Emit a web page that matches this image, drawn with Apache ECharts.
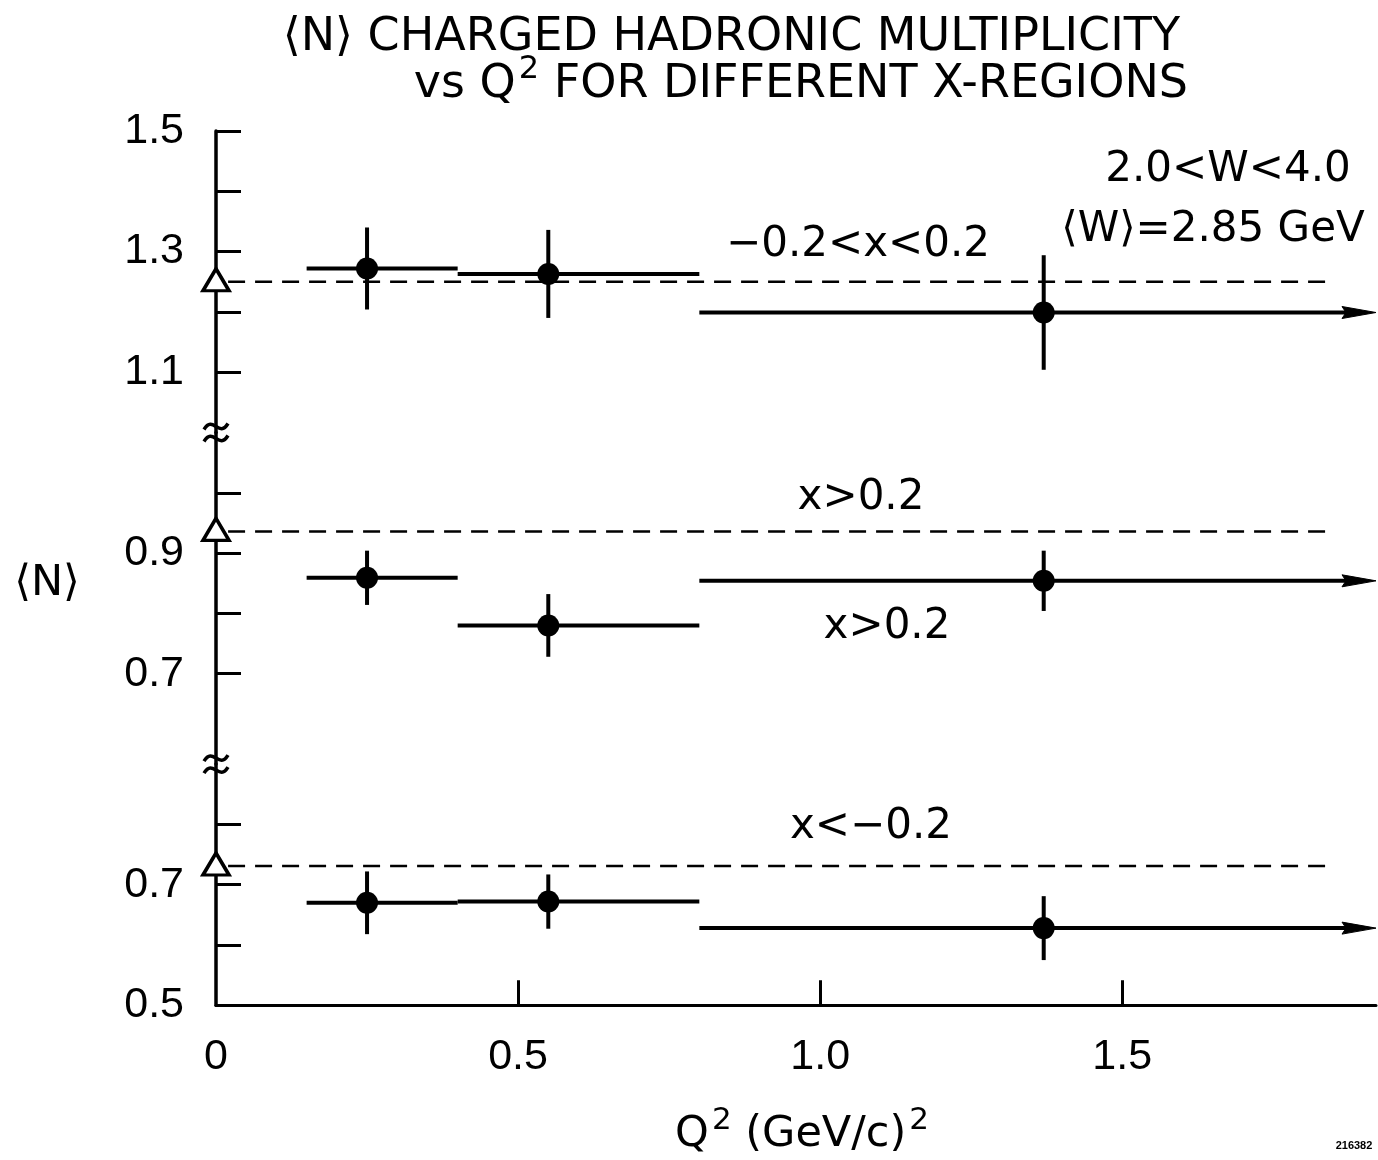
<!DOCTYPE html>
<html>
<head>
<meta charset="utf-8">
<script src="https://cdn.jsdelivr.net/npm/echarts@6/dist/echarts.min.js"></script>
<style>
html,body{margin:0;padding:0;background:#fff;}
#main{width:1378px;height:1160px;}
</style>
</head>
<body>
<div id="main"></div>
<script>
// ---------------- data ----------------
const regionLabels = ['\u22120.2<x<0.2', 'x>0.2', 'x>0.2', 'x<\u22120.2'];
const q2Centers = [0.25, 0.55, 1.37];
const q2BinLow = [0.15, 0.40, 0.80];
const q2BinHigh = [0.40, 0.80, 1.92];          // last bin is open-ended (arrow)
const nCentral = [1.272, 1.263, 1.199];        // -0.2 < x < 0.2
const errCentral = [0.068, 0.073, 0.095];
const nForward = [0.859, 0.780, 0.854];        // x > 0.2
const errForward = [0.045, 0.052, 0.050];
const nBackward = [0.670, 0.672, 0.628];       // x < -0.2
const errBackward = [0.052, 0.045, 0.053];
const refLevels = [1.25, 0.936, 0.731];        // open triangles + dashed lines
const refLineQ2 = [0.02, 1.84];
const yRanges = [[1.0, 1.5], [0.55, 1.1], [0.5, 0.9]];
const yTickValues = [[1.1, 1.2, 1.3, 1.4, 1.5], [0.7, 0.8, 0.9, 1.0], [0.5, 0.6, 0.7, 0.8]];
const yLabelValues = [[1.1, 1.3, 1.5], [0.7, 0.9], [0.5, 0.7]];
const xRange = [0, 1.92];
const xTickValues = [0.5, 1.0, 1.5];
const xLabelValues = [0, 0.5, 1.0, 1.5];
const breakMarks = [[0, 1.0], [2, 0.9]];       // [segment, y value] of axis breaks
const titleLines = ['\u27E8N\u27E9 CHARGED HADRONIC MULTIPLICITY', 'vs Q', '2', ' FOR DIFFERENT X-REGIONS'];
const wRange = '2.0<W<4.0';
const wMean = '\u27E8W\u27E9=2.85 GeV';
const figId = '216382';

const segN = [nCentral, nForward, nBackward];
const segE = [errCentral, errForward, errBackward];

// ---------------- layout ----------------
const FONT_TXT = 'DejaVu Sans';
const FONT_NUM = 'Liberation Sans';
const gridBoxes = [
  {left: 216, right: 2, top: 131, height: 301.5},
  {left: 216, right: 2, top: 432.5, height: 331.6},
  {left: 216, right: 2, top: 764.1, height: 241.2}
];

const grids = gridBoxes.map(g => Object.assign({outerBoundsMode: 'none', containLabel: false}, g));

const xAxes = gridBoxes.map((g, i) => ({
  type: 'value', gridIndex: i, min: xRange[0], max: xRange[1],
  show: i === 2,
  axisLine: {show: true, onZero: false, lineStyle: {color: '#000', width: 3}},
  axisTick: {show: true, inside: true, length: 25, customValues: xTickValues, lineStyle: {color: '#000', width: 3}},
  axisLabel: {show: true, customValues: xLabelValues, margin: 30, fontSize: 43, fontFamily: FONT_NUM, color: '#000',
    formatter: v => (v === 0 ? '0' : v.toFixed(1))},
  splitLine: {show: false}
}));

const yAxes = gridBoxes.map((g, i) => ({
  type: 'value', gridIndex: i, min: yRanges[i][0], max: yRanges[i][1],
  axisLine: {show: true, onZero: false, lineStyle: {color: '#000', width: 3.5}},
  axisTick: {show: true, inside: true, length: 25, customValues: yTickValues[i], lineStyle: {color: '#000', width: 3}},
  axisLabel: {show: true, customValues: yLabelValues[i], margin: 32, fontSize: 43, fontFamily: FONT_NUM, color: '#000',
    formatter: v => v.toFixed(1)},
  splitLine: {show: false}
}));

const series = [];
for (let i = 0; i < 3; i++) {
  const N = segN[i], E = segE[i];
  // dashed reference level
  series.push({
    type: 'line', xAxisIndex: i, yAxisIndex: i, silent: true, symbol: 'none', z: 2,
    data: [[refLineQ2[0], refLevels[i]], [refLineQ2[1], refLevels[i]]],
    lineStyle: {color: '#000', width: 2.5, type: [17, 10], opacity: 1}
  });
  // error bars + bin widths (last bin with arrow)
  series.push({
    type: 'custom', xAxisIndex: i, yAxisIndex: i, silent: true, z: 3, clip: false,
    data: q2Centers.map((q, j) => [q, N[j], E[j], q2BinLow[j], q2BinHigh[j], j === q2Centers.length - 1 ? 1 : 0]),
    renderItem: function (params, api) {
      const q = api.value(0), n = api.value(1), e = api.value(2);
      const lo = api.value(3), hi = api.value(4), open = api.value(5);
      const t = api.coord([q, n + e]), b = api.coord([q, n - e]);
      const l = api.coord([lo, n]), r = api.coord([hi, n]);
      const st = {stroke: '#000', lineWidth: 4, fill: 'none'};
      const children = [
        {type: 'line', shape: {x1: t[0], y1: t[1], x2: b[0], y2: b[1]}, style: st},
        {type: 'line', shape: {x1: l[0], y1: l[1], x2: open ? r[0] - 20 : r[0], y2: r[1]}, style: st}
      ];
      if (open) {
        children.push({type: 'polygon',
          shape: {points: [[r[0], r[1]], [r[0] - 34, r[1] - 6], [r[0] - 30, r[1]], [r[0] - 34, r[1] + 6]]},
          style: {fill: '#000', stroke: '#000', lineWidth: 1}});
      }
      return {type: 'group', children: children};
    }
  });
  // measured points
  series.push({
    type: 'scatter', xAxisIndex: i, yAxisIndex: i, silent: true, z: 5, clip: false,
    symbol: 'circle', symbolSize: 22,
    data: q2Centers.map((q, j) => [q, N[j]]),
    itemStyle: {color: '#000', opacity: 1}
  });
  // open triangle on the axis
  series.push({
    type: 'scatter', xAxisIndex: i, yAxisIndex: i, silent: true, z: 6, clip: false,
    symbol: 'triangle', symbolSize: [26, 22], symbolOffset: [0, -2],
    data: [[0, refLevels[i]]],
    itemStyle: {color: '#fff', borderColor: '#000', borderWidth: 3.5, opacity: 1}
  });
}
// axis break marks (≈)
breakMarks.forEach(bm => {
  series.push({
    type: 'custom', xAxisIndex: bm[0], yAxisIndex: bm[0], silent: true, z: 7, clip: false,
    data: [[0, bm[1]]],
    renderItem: function (params, api) {
      const p = api.coord([api.value(0), api.value(1)]);
      const x = p[0], y = p[1];
      const mk = dy => ({type: 'bezierCurve',
        shape: {x1: x - 12, y1: y + dy + 3, cpx1: x - 3, cpy1: y + dy - 12, cpx2: x + 3, cpy2: y + dy + 12, x2: x + 12, y2: y + dy - 3},
        style: {stroke: '#000', lineWidth: 3.5, fill: 'none'}});
      return {type: 'group', children: [mk(-6), mk(6)]};
    }
  });
});

const txt = (text, x, y, size, extra) => ({
  type: 'text', x: x, y: y, silent: true, z: 10,
  style: Object.assign({text: text, fontSize: size, fontFamily: FONT_TXT, fill: '#000',
    align: 'center', verticalAlign: 'middle'}, extra || {})
});

const graphics = [
  txt(titleLines[0], 1180, 38, 46, {align: 'right'}),
  txt('{m|' + titleLines[1] + '}{s|' + titleLines[2] + '}{m|' + titleLines[3] + '}', 1188, 84, 46, {
    align: 'right',
    rich: {
      m: {fontSize: 46, fontFamily: FONT_TXT, lineHeight: 48, verticalAlign: 'bottom'},
      s: {fontSize: 32, fontFamily: FONT_TXT, lineHeight: 32, verticalAlign: 'bottom', padding: [0, 0, 22, 3]}
    }
  }),
  txt(wRange, 1228, 170, 42),
  txt(wMean, 1213, 230, 42),
  txt(regionLabels[0], 858, 245, 42),
  txt(regionLabels[1], 861, 498, 42),
  txt(regionLabels[2], 887, 627, 42),
  txt(regionLabels[3], 871, 827, 42),
  txt('\u27E8N\u27E9', 47, 584, 43),
  txt('{m|Q}{s|2}{m| (GeV/c)}{s|2}', 802, 1134, 43, {
    rich: {
      m: {fontSize: 43, fontFamily: FONT_TXT, lineHeight: 44, verticalAlign: 'bottom'},
      s: {fontSize: 31, fontFamily: FONT_TXT, lineHeight: 31, verticalAlign: 'bottom', padding: [0, 0, 20, 3]}
    }
  }),
  txt(figId, 1354, 1146, 11, {fontWeight: 'bold', fontFamily: FONT_NUM})
];

const chart = echarts.init(document.getElementById('main'), null, {renderer: 'canvas'});
chart.setOption({
  animation: false,
  backgroundColor: '#fff',
  grid: grids,
  xAxis: xAxes,
  yAxis: yAxes,
  series: series,
  graphic: graphics
});
</script>
</body>
</html>
